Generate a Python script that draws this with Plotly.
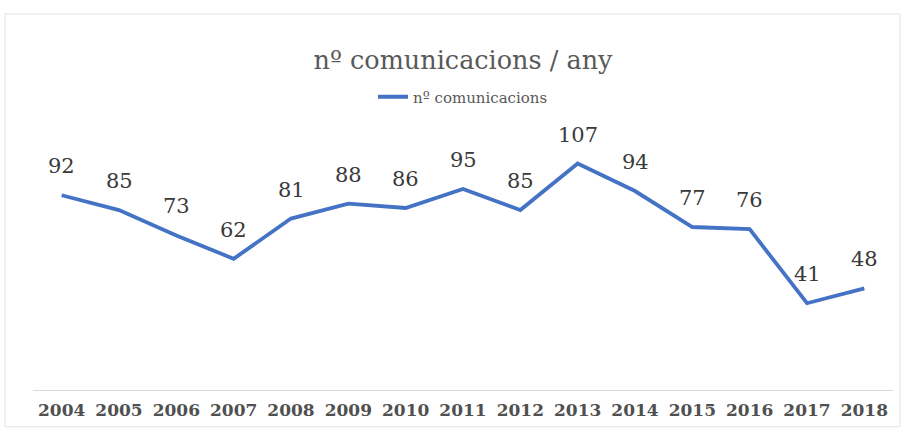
import plotly.graph_objects as go

years = ["2004", "2005", "2006", "2007", "2008", "2009", "2010", "2011",
         "2012", "2013", "2014", "2015", "2016", "2017", "2018"]
values = [92, 85, 73, 62, 81, 88, 86, 95, 85, 107, 94, 77, 76, 41, 48]
series_name = "nº comunicacions"
title_text = "nº comunicacions / any"

W, H = 909, 432
L, R, T, B = 33, 16, 136, 40

fig = go.Figure()
fig.add_trace(go.Scatter(
    x=years, y=values, mode="lines", name=series_name,
    line=dict(color="#4472C4", width=3.8),
    showlegend=True,
))

for i, v in enumerate(values):
    fig.add_annotation(
        x=i, y=v, xref="x", yref="y", text=str(v), showarrow=False,
        xanchor="center", yanchor="middle", yshift=29,
        font=dict(family="DejaVu Serif", size=21, color="#3a3a3a"),
    )

pw = W - L - R
ph = H - T - B
fig.add_shape(
    type="rect", xref="paper", yref="paper",
    x0=(5 - L) / pw, x1=(900 - L) / pw,
    y0=(H - B - 429) / ph, y1=(H - B - 13) / ph,
    line=dict(color="#e3e3e3", width=1), fillcolor="rgba(0,0,0,0)", layer="below",
)

fig.update_layout(
    width=W, height=H,
    margin=dict(l=L, r=R, t=T, b=B),
    paper_bgcolor="white", plot_bgcolor="white",
    title=dict(text=title_text, x=0.5, xanchor="center",
               xref="paper", yref="container", y=1 - 60 / H, yanchor="middle",
               font=dict(family="DejaVu Serif", size=25.5, color="#595959")),
    legend=dict(orientation="h", x=0.5, xanchor="center", xref="paper",
                yref="container", y=1 - 97 / H, yanchor="middle",
                font=dict(family="DejaVu Serif", size=15, color="#595959"),
                bgcolor="rgba(0,0,0,0)"),
    xaxis=dict(type="category", range=[-0.5, len(years) - 0.5],
               showgrid=False, zeroline=False, showline=True,
               linecolor="#d9d9d9", linewidth=1, ticks="",
               ticklabelstandoff=5,
               tickfont=dict(family="DejaVu Serif", size=17, color="#505050",
                             weight="bold")),
    yaxis=dict(range=[0, 120], showgrid=False, zeroline=False,
               showticklabels=False, showline=False, ticks=""),
)

fig.write_html("out.html")
